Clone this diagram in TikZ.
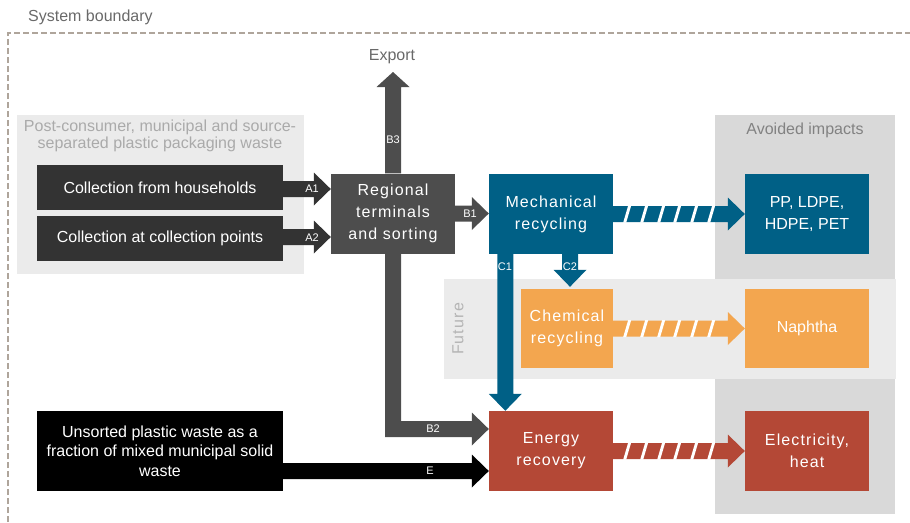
\documentclass[tikz,border=0pt]{standalone}
\usepackage{fontspec}
\setmainfont{Liberation Sans}
\newfontfamily\spacedfont[LetterSpace=7]{Liberation Sans}
\usetikzlibrary{calc}
\definecolor{dk}{RGB}{51,51,51}
\definecolor{mid}{RGB}{77,77,77}
\definecolor{blu}{RGB}{0,96,134}
\definecolor{org}{RGB}{243,166,79}
\definecolor{rd}{RGB}{180,72,54}
\definecolor{lg}{RGB}{235,235,235}
\definecolor{ag}{RGB}{217,217,217}
\definecolor{bnd}{RGB}{175,165,155}
\newcommand\harrow[3]{\fill[#3] ($(#1)+(0,-8)$) -- ($(#2)+(-17,-8)$) -- ($(#2)+(-17,-16.5)$) -- (#2) -- ($(#2)+(-17,16.5)$) -- ($(#2)+(-17,8)$) -- ($(#1)+(0,8)$) -- cycle;}
\newcommand\varrowdown[3]{\fill[#3] ($(#1)+(-8,0)$) -- ($(#2)+(-8,-17)$) -- ($(#2)+(-16.5,-17)$) -- (#2) -- ($(#2)+(16.5,-17)$) -- ($(#2)+(8,-17)$) -- ($(#1)+(8,0)$) -- cycle;}
\newcommand\varrowup[3]{\fill[#3] ($(#1)+(-8,0)$) -- ($(#2)+(-8,15)$) -- ($(#2)+(-16.5,15)$) -- (#2) -- ($(#2)+(16.5,15)$) -- ($(#2)+(8,15)$) -- ($(#1)+(8,0)$) -- cycle;}
\newcommand\hatcharrow[3]{\harrow{#1}{#2}{#3}%
  \foreach \dx in {10,27,44,60,77,94}{\fill[white] ($(#1)+(\dx,8.5)$) -- ++(3,0) -- ++(5,-17) -- ++(-3,0) -- cycle;}}
\begin{document}
\begin{tikzpicture}[x=1pt,y=-1pt,
  box/.style={minimum width=124pt,minimum height=80pt,inner sep=0pt,align=center,text=white},
  sbox/.style={box,font=\spacedfont\fontsize{16}{22}\selectfont},
  nbox/.style={box,font=\fontsize{16}{22}\selectfont},
  lbl/.style={text=white,font=\fontsize{11}{11}\selectfont,inner sep=0pt},
  head/.style={inner sep=0pt,align=center,font=\fontsize{16}{17}\selectfont}]
\useasboundingbox (0,0) rectangle (910,522);
% backgrounds
\fill[ag] (715,115) rectangle (895,514);
\fill[lg] (444,279) rectangle (896,379);
\fill[lg] (17,115) rectangle (304,274);
\draw[bnd,line width=2pt,dash pattern=on 6pt off 3pt] (8,522) -- (8,33) -- (912,33);
% headings
\node[head,text={rgb,255:red,105;green,105;blue,105},anchor=west] (sysb) at (28,17) {System boundary};
\node[head,text={rgb,255:red,105;green,105;blue,105}] (export) at (392,57) {Export};
\node[head,text={rgb,255:red,170;green,170;blue,170}] (post) at (160,136) {Post-consumer, municipal and source-\\separated plastic packaging waste};
\node[head,text={rgb,255:red,130;green,130;blue,130}] (avoid) at (805,130) {Avoided impacts};
\node[head,text={rgb,255:red,180;green,180;blue,180},font=\spacedfont\fontsize{16}{17}\selectfont,rotate=90] (fut) at (458,329) {Future};
% boxes
\node[nbox,fill=dk,minimum width=246pt,minimum height=45pt] (coll1) at (160,187.5) {Collection from households};
\node[nbox,fill=dk,minimum width=246pt,minimum height=45pt] (coll2) at (160,238.5) {Collection at collection points};
\node[nbox,fill=black,minimum width=246pt,font=\fontsize{16}{19.5}\selectfont] (uns) at (160,451) {Unsorted plastic waste as a\\fraction of mixed municipal solid\\waste};
\node[sbox,fill=mid] (reg) at (393,213.5) {Regional\\terminals\\and sorting};
\node[sbox,fill=blu] (mech) at (551,214) {Mechanical\\recycling};
\node[sbox,fill=org,minimum width=92pt,minimum height=79pt] (chem) at (567,328.5) {Chemical\\recycling};
\node[sbox,fill=rd] (energy) at (551,451) {Energy\\recovery};
\node[nbox,fill=blu] (pp) at (807,214) {PP, LDPE,\\HDPE, PET};
\node[nbox,fill=org,minimum height=79pt] (naph) at (807,328.5) {Naphtha};
\node[sbox,fill=rd] (elec) at (807,451) {Electricity,\\heat};
% coordinates
\coordinate (a1s) at ($(coll1.east)+(0,1.5)$);
\coordinate (a1t) at (a1s -| reg.west);
\coordinate (a2s) at ($(coll2.east)+(0,-1.5)$);
\coordinate (a2t) at (a2s -| reg.west);
\coordinate (b1t) at (reg.east -| mech.west);
\coordinate (b3t) at (393,72);
\coordinate (b2t) at ($(energy.west)+(0,-22)$);
\coordinate (es) at ($(uns.east)+(0,20)$);
\coordinate (et) at (es -| energy.west);
\coordinate (c1s) at ($(mech.south west)+(16.5,0)$);
\coordinate (c1t) at (c1s |- energy.north);
\coordinate (c2s) at ($(mech.south)+(19,0)$);
\coordinate (c2t) at ($(c2s |- chem.north)+(0,-2)$);
% arrows
\harrow{a1s}{a1t}{dk}
\harrow{a2s}{a2t}{dk}
\harrow{reg.east}{b1t}{mid}
\varrowup{reg.north}{b3t}{mid}
\fill[mid] ($(reg.south)+(-8,0)$) |- ($(b2t)+(-17,8)$) -- ($(b2t)+(-17,16.5)$) -- (b2t) -- ($(b2t)+(-17,-16.5)$) -- ($(b2t)+(-17,-8)$) -| ($(reg.south)+(8,0)$) -- cycle;
\harrow{es}{et}{black}
\varrowdown{c1s}{c1t}{blu}
\varrowdown{c2s}{c2t}{blu}
\hatcharrow{mech.east}{pp.west}{blu}
\hatcharrow{chem.east}{naph.west}{org}
\hatcharrow{energy.east}{elec.west}{rd}
% labels
\node[lbl] (la1) at (312,189) {A1};
\node[lbl] (la2) at (312,238) {A2};
\node[lbl] (lb1) at (470,214) {B1};
\node[lbl] (lb3) at (393,140) {B3};
\node[lbl] (lb2) at (433,429) {B2};
\node[lbl] (le) at (430,471) {E};
\node[lbl] (lc1) at (505,267) {C1};
\node[lbl] (lc2) at (570,267) {C2};
\end{tikzpicture}
\end{document}
